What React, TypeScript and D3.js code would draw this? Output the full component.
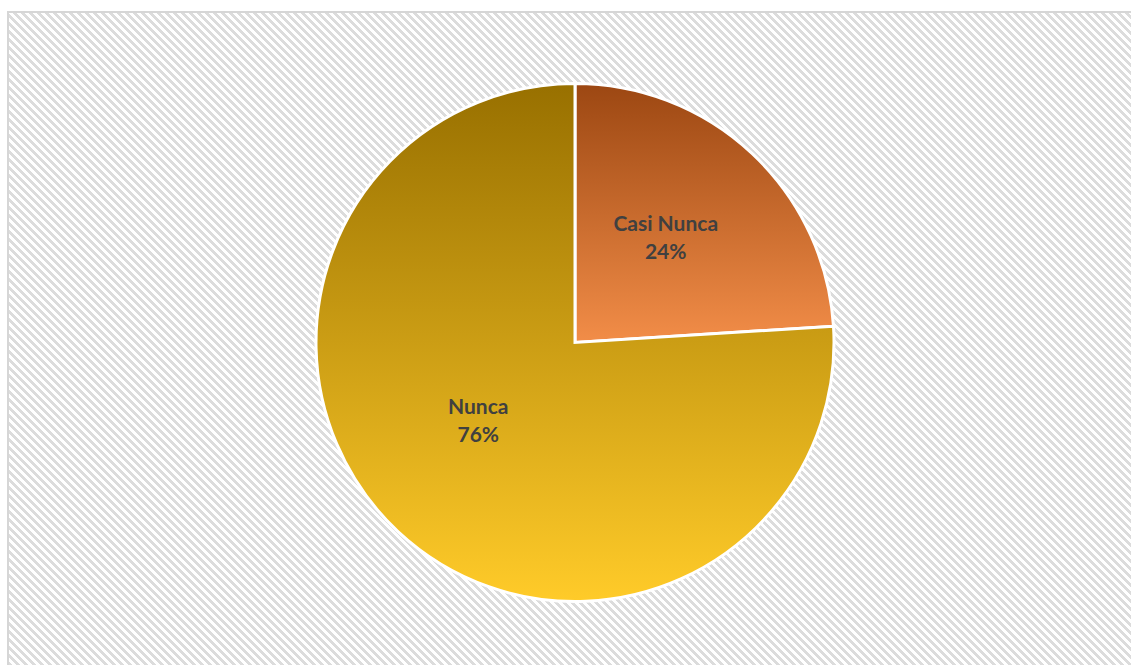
import { useMemo } from "react"
import * as d3 from "d3"

const categories = ["Casi Nunca", "Nunca"]
const values = [24, 76]

const gradients = [
  { id: "g-casi", top: "#9c4712", bottom: "#f28d48" },
  { id: "g-nunca", top: "#987000", bottom: "#ffcb29" },
]

// small nudges of the label block from the slice centroid
const labelNudge = [
  [-5, -4],
  [-1, -25],
]

const W = 1131
const H = 665

export default function App() {
  const cx = 575
  const cy = 342.5
  const r = 259

  const data = categories.map((c, i) => ({ category: c, value: values[i] }))

  const arcs = useMemo(
    () =>
      d3
        .pie<{ category: string; value: number }>()
        .sort(null)
        .value((d) => d.value)(data),
    []
  )

  const arc = d3
    .arc<d3.PieArcDatum<{ category: string; value: number }>>()
    .innerRadius(0)
    .outerRadius(r)

  const labelArc = d3
    .arc<d3.PieArcDatum<{ category: string; value: number }>>()
    .innerRadius(r * 0.54)
    .outerRadius(r * 0.54)

  const total = d3.sum(values)

  return (
    <svg
      width={W}
      height={H}
      style={{ position: "absolute", left: 0, top: 0 }}
      fontFamily="Lato, 'Open Sans', sans-serif"
    >
      <defs>
        <pattern id="bg" width={8} height={8} patternUnits="userSpaceOnUse">
          <rect width={8} height={8} fill="#ffffff" />
          {d3.range(8).map((i) => (
            <g key={i} fill="#dcdcdc" shapeRendering="crispEdges">
              <rect x={i} y={i} width={4} height={1} />
              <rect x={i - 8} y={i} width={4} height={1} />
            </g>
          ))}
        </pattern>
        {gradients.map((g) => (
          <linearGradient key={g.id} id={g.id} x1="0" y1="0" x2="0" y2="1">
            <stop offset="0%" stopColor={g.top} />
            <stop offset="100%" stopColor={g.bottom} />
          </linearGradient>
        ))}
      </defs>
      <rect x={0} y={0} width={W} height={H} fill="#ffffff" />
      <rect x={8} y={12} width={W + 10} height={H + 10} fill="url(#bg)" stroke="#d6d6d6" strokeWidth={2} />
      <g transform={`translate(${cx},${cy})`}>
        {arcs.map((a, i) => (
          <path key={a.data.category} d={arc(a) || ""} fill={`url(#${gradients[i].id})`} stroke="#ffffff" strokeWidth={3} />
        ))}
        {arcs.map((a, i) => {
          const [px, py] = labelArc.centroid(a)
          const x = px + labelNudge[i][0]
          const y = py + labelNudge[i][1]
          const pct = Math.round((a.data.value / total) * 100)
          return (
            <text
              key={a.data.category}
              textAnchor="middle"
              fill="#404040"
              fontWeight="bold"
              fontSize={21}
            >
              <tspan x={x} y={y - 5.5}>{a.data.category}</tspan>
              <tspan x={x} y={y + 22.5}>{pct}%</tspan>
            </text>
          )
        })}
      </g>
    </svg>
  )
}
